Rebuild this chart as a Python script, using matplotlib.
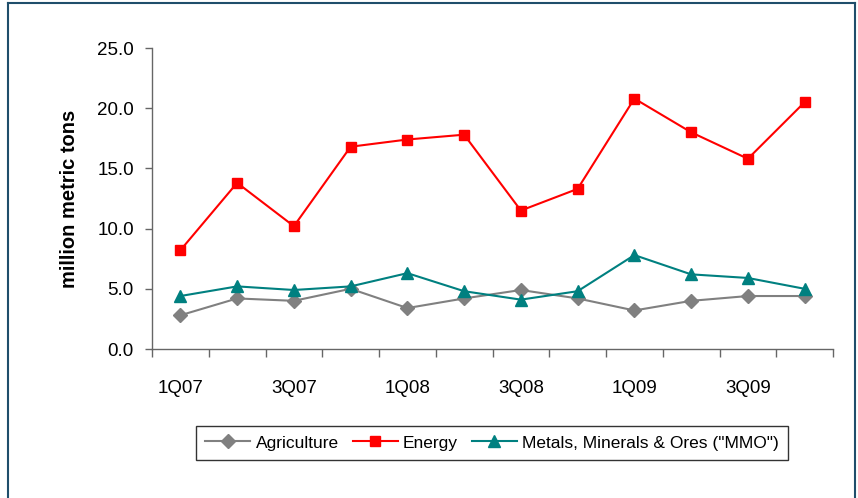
"""Quarterly seaborne volumes by cargo group, 1Q07-4Q09 (line chart)."""
import matplotlib
matplotlib.use("Agg")
import matplotlib.pyplot as plt
from matplotlib.lines import Line2D
from matplotlib.ticker import FixedLocator, NullFormatter

plt.rcParams["font.family"] = ["Liberation Sans", "DejaVu Sans"]

quarters = ["1Q07", "2Q07", "3Q07", "4Q07", "1Q08", "2Q08",
            "3Q08", "4Q08", "1Q09", "2Q09", "3Q09", "4Q09"]
agriculture = [2.8, 4.2, 4.0, 5.0, 3.4, 4.2, 4.9, 4.2, 3.2, 4.0, 4.4, 4.4]
energy = [8.2, 13.8, 10.2, 16.8, 17.4, 17.8, 11.5, 13.3, 20.8, 18.0, 15.8, 20.5]
mmo = [4.4, 5.2, 4.9, 5.2, 6.3, 4.8, 4.1, 4.8, 7.8, 6.2, 5.9, 5.0]
yticks = [0, 5, 10, 15, 20, 25]

fig = plt.figure(figsize=(8.58, 4.98), dpi=100)
ax = fig.add_axes([152 / 858, 1 - 349 / 498, 681 / 858, 301 / 498])

x = range(len(quarters))
ax.plot(x, agriculture, color="#808080", lw=1.5, marker="D", ms=7,
        label="Agriculture")
ax.plot(x, energy, color="#ff0000", lw=1.5, marker="s", ms=7.5,
        label="Energy")
ax.plot(x, mmo, color="#008080", lw=1.5, marker="^", ms=9,
        label='Metals, Minerals & Ores ("MMO")')

ax.set_xlim(-0.5, len(quarters) - 0.5)
ax.set_ylim(0, 25)
ax.set_yticks(yticks)
ax.set_yticklabels([f"{v:.1f}" for v in yticks])
ax.set_xticks(list(x)[::2])
ax.set_xticklabels(quarters[::2])
ax.xaxis.set_minor_locator(FixedLocator([i - 0.5 for i in range(len(quarters) + 1)]))
ax.xaxis.set_minor_formatter(NullFormatter())

for side in ("top", "right"):
    ax.spines[side].set_visible(False)
for side in ("left", "bottom"):
    ax.spines[side].set_color("#666666")
    ax.spines[side].set_linewidth(1.0)

ax.tick_params(axis="y", direction="out", length=5, width=1, color="#666666",
               labelsize=13.5, pad=8)
ax.tick_params(axis="x", which="major", length=0, labelsize=13.5, pad=22)
ax.tick_params(axis="x", which="minor", direction="out", length=6, width=1,
               color="#666666")

ax.set_ylabel("million metric tons", fontsize=14.5, fontweight="bold", labelpad=13)

leg = fig.legend(loc="center", bbox_to_anchor=(492 / 858, 1 - 443 / 498),
                 ncol=3, fontsize=12.5, frameon=True, fancybox=False,
                 edgecolor="black", handlelength=2.6, columnspacing=0.8,
                 handletextpad=0.3, borderpad=0.55)
leg.get_frame().set_linewidth(1.0)

# outer chart border (left, top, right)
border = "#1f4e6b"
fig.add_artist(Line2D([8 / 858, 8 / 858], [0, 1 - 3 / 498], color=border, lw=1.5,
                      transform=fig.transFigure))
fig.add_artist(Line2D([8 / 858, 855 / 858], [1 - 3 / 498, 1 - 3 / 498], color=border,
                      lw=1.5, transform=fig.transFigure))
fig.add_artist(Line2D([855 / 858, 855 / 858], [0, 1 - 3 / 498], color=border, lw=1.5,
                      transform=fig.transFigure))

fig.savefig("out.png", dpi=100)
